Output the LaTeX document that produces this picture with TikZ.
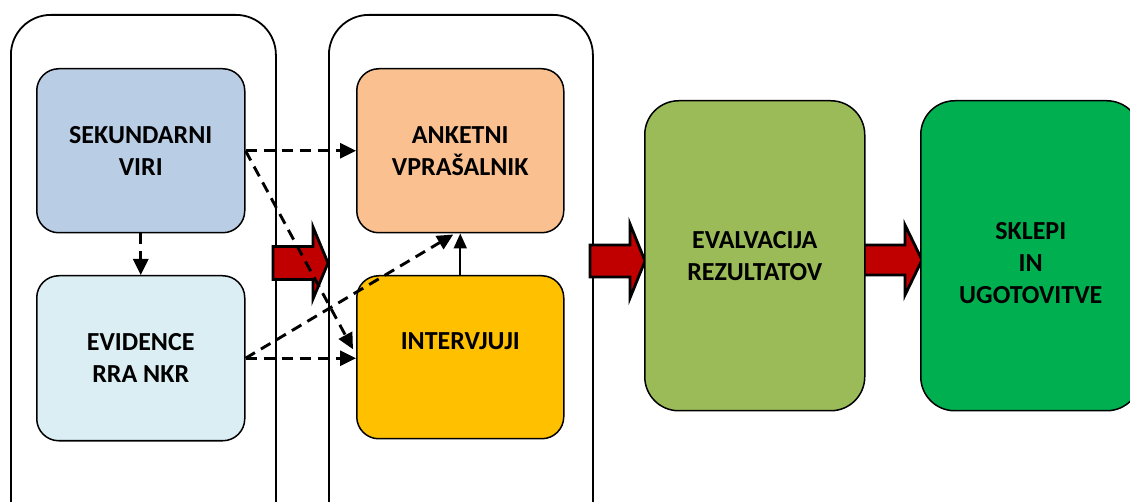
\documentclass[tikz,border=0pt]{standalone}
\usepackage{fontspec}
\setmainfont{Carlito}
\usetikzlibrary{arrows.meta,calc}

\definecolor{skyblue}{HTML}{B9CDE5}
\definecolor{paleblue}{HTML}{DBEEF4}
\definecolor{peach}{HTML}{FAC090}
\definecolor{amber}{HTML}{FFC000}
\definecolor{olivegreen}{HTML}{9BBB59}
\definecolor{brightgreen}{HTML}{00B050}
\definecolor{darkred}{HTML}{C00000}

\begin{document}
\begin{tikzpicture}[x=1pt,y=-1pt,
  container/.style={draw=black, line width=1.8pt, rounded corners=40pt, fill=white,
    anchor=north west, minimum width=265pt, minimum height=540pt, inner sep=0pt},
  stage/.style={draw=black, line width=1.5pt, rounded corners=22pt, anchor=north west,
    inner sep=0pt, align=center, text=black,
    font=\bfseries\fontsize{26}{32}\selectfont},
  smallstage/.style={stage, minimum width=208pt, minimum height=164pt},
  bigstage/.style={stage, rounded corners=34pt, minimum width=220pt, minimum height=310pt},
  blockarrow/.style={draw=black, line width=2.8pt, fill=darkred, line join=miter},
  dasharrow/.style={line width=2.9pt, dash pattern=on 11pt off 7pt,
    -{Triangle[length=16pt,width=15pt]}},
  solidarrow/.style={line width=1.9pt, -{Triangle[length=15pt,width=13pt]}}
]
\useasboundingbox (0,0) rectangle (1130,502);
\clip (0,0) rectangle (1130,502);

% phase containers
\node[container] (phase1) at (10,14) {};
\node[container, minimum width=264pt] (phase2) at (328,14) {};

% block arrows between phases
\coordinate (ba1) at (273,263);
\coordinate (ba2) at (590,261);
\coordinate (ba3) at (864,260);
\draw[blockarrow] (ba1) ++(0,-16.5) -- ++(40,0) -- ++(0,-19.5) -- ++(15,36)
  -- ++(-15,36) -- ++(0,-19.5) -- ++(-40,0) -- cycle;
\draw[blockarrow] (ba2) ++(0,-16) -- ++(40,0) -- ++(0,-21) -- ++(15,37)
  -- ++(-15,37) -- ++(0,-21) -- ++(-40,0) -- cycle;
\draw[blockarrow] (ba3) ++(0,-15) -- ++(41,0) -- ++(0,-20) -- ++(17,35)
  -- ++(-17,35) -- ++(0,-20) -- ++(-41,0) -- cycle;

% stages
\node[smallstage, fill=skyblue] (sekundarni) at (36,68) {SEKUNDARNI\\VIRI};
\node[smallstage, fill=paleblue, minimum height=165pt] (evidence) at (36,275) {EVIDENCE\\RRA NKR};
\node[smallstage, fill=peach, minimum width=207pt] (anketni) at (356,68) {ANKETNI\\VPRAŠALNIK};
\node[smallstage, fill=amber, minimum width=207pt, minimum height=163pt] (intervjuji) at (356,275) {INTERVJUJI\\\mbox{}};
\node[bigstage, fill=olivegreen] (evalvacija) at (644,100) {EVALVACIJA\\REZULTATOV};
\node[bigstage, fill=brightgreen] (sklepi) at (920,100) {\mbox{}\\SKLEPI\\IN\\UGOTOVITVE};

% connectors
\coordinate (intv-in) at ($(intervjuji.west)+(-3,-8)$);
\coordinate (ank-in) at ($(anketni.south)+(-7,1)$);
\draw[dasharrow] (sekundarni.east) -- (anketni.west);
\draw[dasharrow] (sekundarni.east) -- (intv-in);
\draw[dasharrow] (evidence.east) -- (evidence.east -| intervjuji.west);
\draw[dasharrow] (evidence.east) -- (ank-in);
\draw[dasharrow] (sekundarni.south) -- (evidence.north);
\draw[solidarrow] (intervjuji.north) -- (anketni.south);
\end{tikzpicture}
\end{document}
